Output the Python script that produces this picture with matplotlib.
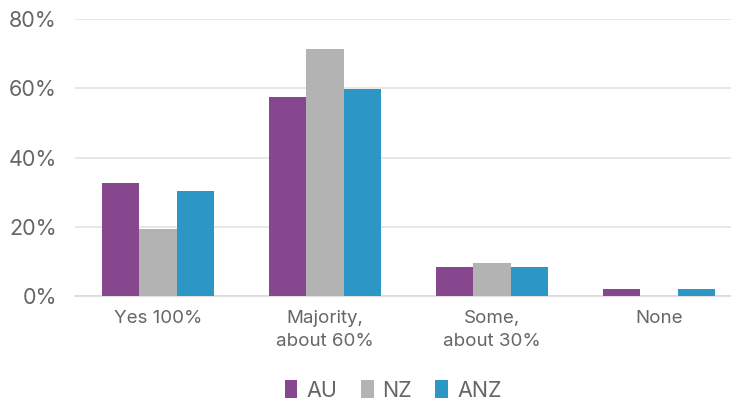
import numpy as np
import matplotlib.pyplot as plt
from matplotlib.ticker import PercentFormatter

# Datos
categories = ['Yes 100%', 'Majority,\nabout 60%', 'Some,\nabout 30%', 'None']
au = [32.7, 57.5, 8.4, 2.0]
nz = [19.3, 71.3, 9.6, 0.0]
anz = [30.3, 59.8, 8.4, 2.0]
series = ['AU', 'NZ', 'ANZ']
colors = ['#86478F', '#B3B3B3', '#2C96C6']

plt.rcParams['font.family'] = ['Inter', 'DejaVu Sans']
text_color = '#666666'

fig = plt.figure(figsize=(7.31, 4.0), dpi=100)
ax = fig.add_axes([0.1026, 0.26, 0.897, 0.6925])

x = np.arange(len(categories))
w = 0.224
for i, (vals, name) in enumerate(zip([au, nz, anz], series)):
    ax.bar(x + (i - 1) * w, vals, w, color=colors[i], label=name, zorder=3)

ax.set_ylim(0, 80)
ax.set_xlim(-0.497, 3.43)
ax.set_yticks([0, 20, 40, 60, 80])
ax.yaxis.set_major_formatter(PercentFormatter(decimals=0))
ax.grid(axis='y', color='#E3E3E3', linewidth=1.2, zorder=0)
for s in ['top', 'right', 'left']:
    ax.spines[s].set_visible(False)
ax.spines['bottom'].set_color('#DADADA')
ax.spines['bottom'].set_linewidth(1.2)
ax.tick_params(axis='both', length=0, colors=text_color)
ax.tick_params(axis='y', labelsize=15.5, pad=13)
ax.set_xticks(x)
ax.set_xticklabels(categories, fontsize=13.5, linespacing=1.45)
ax.tick_params(axis='x', pad=10)

ax.legend(loc='upper center', bbox_to_anchor=(0.485, -0.235), ncol=3, frameon=False,
          fontsize=15.5, handlelength=0.6, handleheight=0.9, handletextpad=0.4,
          columnspacing=1.1, labelcolor=text_color)

fig.savefig('out.png', dpi=100)
